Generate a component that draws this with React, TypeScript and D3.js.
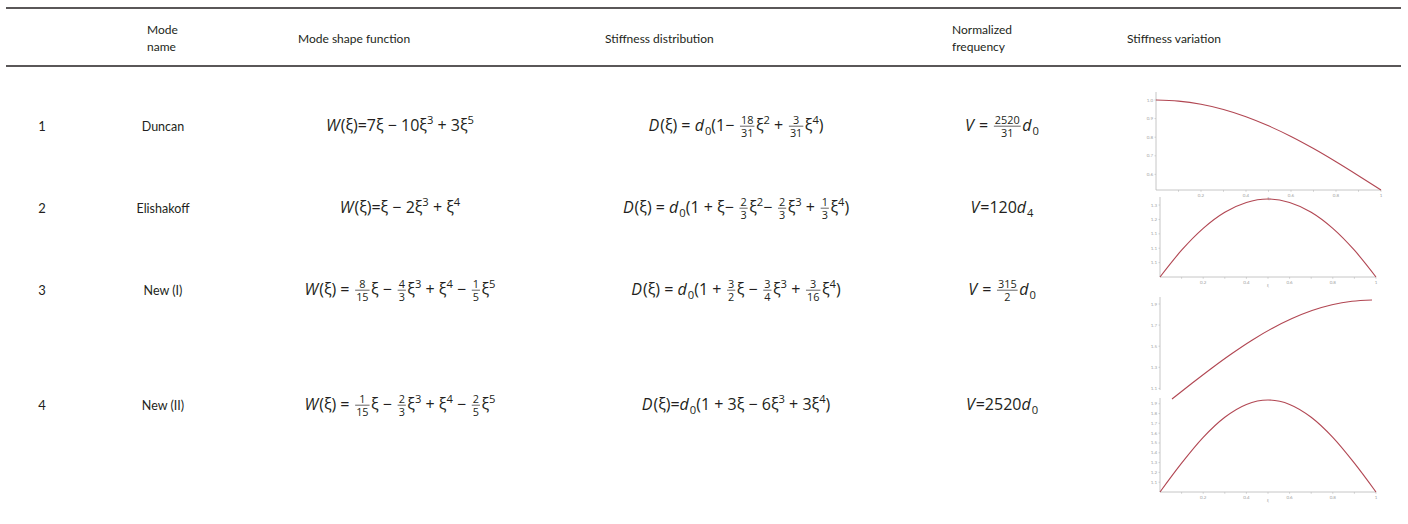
import React, { useEffect, useRef } from 'react';
import * as d3 from 'd3';

const width = 1408;
const height = 524;

// table content
const rowNumbers = ['1', '2', '3', '4'];
const modeNames = ['Duncan', 'Elishakoff', 'New (I)', 'New (II)'];
// mini markup: parts split by '|'; i: italic, ^ sup, _ sub, f:a/b fraction
const modeShapes = [
  'i:W|(ξ)=7ξ − 10ξ|^3| + 3ξ|^5',
  'i:W|(ξ)=ξ − 2ξ|^3| + ξ|^4',
  'i:W|(ξ) = |f:8/15|ξ − |f:4/3|ξ|^3| + ξ|^4| − |f:1/5|ξ|^5',
  'i:W|(ξ) = |f:1/15|ξ − |f:2/3|ξ|^3| + ξ|^4| − |f:2/5|ξ|^5',
];
const stiffness = [
  'i:D|(ξ) = |i:d|_0|(1− |f:18/31|ξ|^2| + |f:3/31|ξ|^4|)',
  'i:D|(ξ) = |i:d|_0|(1 + ξ− |f:2/3|ξ|^2|− |f:2/3|ξ|^3| + |f:1/3|ξ|^4|)',
  'i:D|(ξ) = |i:d|_0|(1 + |f:3/2|ξ − |f:3/4|ξ|^3| + |f:3/16|ξ|^4|)',
  'i:D|(ξ)=|i:d|_0|(1 + 3ξ − 6ξ|^3| + 3ξ|^4|)',
];
const frequencies = [
  'i:V| = |f:2520/31|i:d|_0',
  'i:V|=120|i:d|_4',
  'i:V| = |f:315/2|i:d|_0',
  'i:V|=2520|i:d|_0',
];

// stiffness variation curves
const xi = [0, 0.1, 0.2, 0.3, 0.4, 0.5, 0.6, 0.7, 0.8, 0.9, 1];
const duncan = [1, 0.994, 0.977, 0.949, 0.91, 0.861, 0.804, 0.739, 0.668, 0.593, 0.516];
const elishakoff = [1, 1.093, 1.169, 1.225, 1.259, 1.271, 1.259, 1.225, 1.169, 1.093, 1];
const newOne = [1, 1.149, 1.294, 1.431, 1.557, 1.668, 1.762, 1.838, 1.893, 1.926, 1.938];
const newTwo = [1, 1.294, 1.557, 1.762, 1.893, 1.938, 1.893, 1.762, 1.557, 1.294, 1];
const xTickLabels = [0.2, 0.4, 0.6, 0.8, 1];
const yTicksDuncan = [0.6, 0.7, 0.8, 0.9, 1.0];
const yTicksElishakoff = [1.05, 1.1, 1.15, 1.2, 1.25];
const yTicksNewOne = [1.1, 1.3, 1.5, 1.7, 1.9];
const yTicksNewTwo = [1.1, 1.2, 1.3, 1.4, 1.5, 1.6, 1.7, 1.8, 1.9];

const series = [duncan, elishakoff, newOne, newTwo];
const yTicks = [yTicksDuncan, yTicksElishakoff, yTicksNewOne, yTicksNewTwo];

// plot frames (pixels)
const frames = [
  { x0: 1156, x1: 1381, top: 100, bottom: 190, axisX: 1156, axisTop: 92, axisBottom: 190, xAxis: true },
  { x0: 1160, x1: 1376, top: 199, bottom: 277, axisX: 1160, axisTop: 197, axisBottom: 277, xAxis: true },
  { x0: 1172, x1: 1372, top: 300, bottom: 399, axisX: 1160, axisTop: 297, axisBottom: 390, xAxis: false },
  { x0: 1160, x1: 1376, top: 400, bottom: 492, axisX: 1160, axisTop: 398, axisBottom: 492, xAxis: true },
];

const rowBase = [131, 213, 295, 410];
const font = "Lato, 'Open Sans', sans-serif";
const mathFont = "'Open Sans', Lato, sans-serif";
const ink = '#231f20';

type G = d3.Selection<SVGGElement, unknown, null, undefined>;

function drawMath(parent: G, src: string, cx: number, base: number, size: number) {
  const g = parent.append('g').attr('fill', ink).attr('font-family', mathFont);
  let x = 0;
  const txt = (s: string, fs: number, y: number, italic = false) =>
    g.append('text')
      .attr('font-size', fs)
      .attr('y', y)
      .attr('font-style', italic ? 'italic' : 'normal')
      .style('white-space', 'pre')
      .text(s);
  src.split('|').forEach(part => {
    if (part.startsWith('f:')) {
      const [n, d] = part.slice(2).split('/');
      const fs = size * 0.68;
      const tn = txt(n, fs, -size * 0.42);
      const td = txt(d, fs, size * 0.38);
      const wn = (tn.node() as SVGTextElement).getComputedTextLength();
      const wd = (td.node() as SVGTextElement).getComputedTextLength();
      const w = Math.max(wn, wd) + 3;
      tn.attr('x', x + 1 + (w - wn) / 2);
      td.attr('x', x + 1 + (w - wd) / 2);
      g.append('line')
        .attr('x1', x + 1.5).attr('x2', x + w + 0.5)
        .attr('y1', -size * 0.3).attr('y2', -size * 0.3)
        .attr('stroke', ink).attr('stroke-width', 0.7);
      x += w + 2;
    } else if (part.startsWith('^') || part.startsWith('_')) {
      const t = txt(part.slice(1), size * 0.7, part[0] === '^' ? -size * 0.42 : size * 0.22).attr('x', x);
      x += (t.node() as SVGTextElement).getComputedTextLength();
    } else {
      const italic = part.startsWith('i:');
      const t = txt(italic ? part.slice(2) : part, size, 0, italic).attr('x', x);
      x += (t.node() as SVGTextElement).getComputedTextLength() + (italic ? 1 : 0);
    }
  });
  g.attr('transform', `translate(${cx - x / 2},${base})`);
}

function drawPlot(parent: G, values: number[], ticks: number[], f: typeof frames[number]) {
  const x = d3.scaleLinear().domain([0, 1]).range([f.x0, f.x1]);
  const y = d3.scaleLinear().domain(d3.extent(values) as [number, number]).range([f.bottom, f.top]);
  const axis = '#b8b8b8';
  const label = '#a0a0a0';
  const g = parent.append('g');
  g.append('line')
    .attr('x1', f.axisX).attr('x2', f.axisX)
    .attr('y1', f.axisTop).attr('y2', f.axisBottom)
    .attr('stroke', axis).attr('stroke-width', 0.8);
  ticks.forEach(t => {
    const yy = y(t);
    if (yy < f.axisTop - 1 || yy > f.axisBottom + 1) return;
    g.append('line').attr('x1', f.axisX - 1.5).attr('x2', f.axisX)
      .attr('y1', yy).attr('y2', yy).attr('stroke', axis).attr('stroke-width', 0.6);
    g.append('text').attr('x', f.axisX - 3).attr('y', yy + 1.5)
      .attr('text-anchor', 'end').attr('font-size', 4.5).attr('fill', label).text(t.toFixed(1));
  });
  if (f.xAxis) {
    g.append('line')
      .attr('x1', f.x0).attr('x2', f.x1)
      .attr('y1', f.bottom).attr('y2', f.bottom)
      .attr('stroke', axis).attr('stroke-width', 0.8);
    xi.slice(1).forEach(t => {
      g.append('line').attr('x1', x(t)).attr('x2', x(t))
        .attr('y1', f.bottom).attr('y2', f.bottom + 1.8).attr('stroke', axis).attr('stroke-width', 0.6);
    });
    xTickLabels.forEach(t => {
      g.append('text').attr('x', x(t)).attr('y', f.bottom + 6.5)
        .attr('text-anchor', 'middle').attr('font-size', 4.5).attr('fill', label).text(String(t));
    });
    g.append('text').attr('x', x(0.5)).attr('y', f.bottom + 10)
      .attr('text-anchor', 'middle').attr('font-size', 4.5).attr('fill', label).text('ξ');
  }
  const line = d3.line<number>()
    .x((_, i) => x(xi[i]))
    .y(d => y(d))
    .curve(d3.curveMonotoneX);
  g.append('path')
    .attr('d', line(values) ?? '')
    .attr('fill', 'none')
    .attr('stroke', '#a8323f')
    .attr('stroke-width', 1.1)
    .attr('stroke-opacity', 0.9);
}

export default function App() {
  const svgRef = useRef<SVGSVGElement | null>(null);

  useEffect(() => {
    const svg = d3.select(svgRef.current);
    svg.selectAll('*').remove();
    const root = svg.append('g').attr('font-family', font) as unknown as G;

    // rules
    [8, 66].forEach(yy => {
      root.append('line')
        .attr('x1', 6).attr('x2', 1401).attr('y1', yy).attr('y2', yy)
        .attr('stroke', ink).attr('stroke-width', 1.6);
    });

    // header
    const head = root.append('g').attr('font-size', 12).attr('fill', ink);
    const headers: [string, number, number][] = [
      ['Mode', 147, 34], ['name', 147, 51],
      ['Mode shape function', 298, 43],
      ['Stiffness distribution', 605, 43],
      ['Normalized', 952, 34], ['frequency', 952, 51],
      ['Stiffness variation', 1127, 43],
    ];
    headers.forEach(([s, x, y]) => head.append('text').attr('x', x).attr('y', y).text(s));

    // rows
    rowNumbers.forEach((n, i) => {
      root.append('text').attr('x', 42).attr('y', rowBase[i]).attr('text-anchor', 'middle')
        .attr('font-size', 13).attr('fill', ink).text(n);
      root.append('text').attr('x', 163).attr('y', rowBase[i]).attr('text-anchor', 'middle')
        .attr('font-size', 12.5).attr('fill', ink).text(modeNames[i]);
      drawMath(root, modeShapes[i], 400, rowBase[i], 16);
      drawMath(root, stiffness[i], 736, rowBase[i], 16);
      drawMath(root, frequencies[i], 1002, rowBase[i], 16);
    });

    series.forEach((vals, i) => drawPlot(root, vals, yTicks[i], frames[i]));
  }, []);

  return (
    <svg
      ref={svgRef}
      width={width}
      height={height}
      style={{ position: 'absolute', left: 0, top: 0, background: '#fff', display: 'block' }}
    />
  );
}
